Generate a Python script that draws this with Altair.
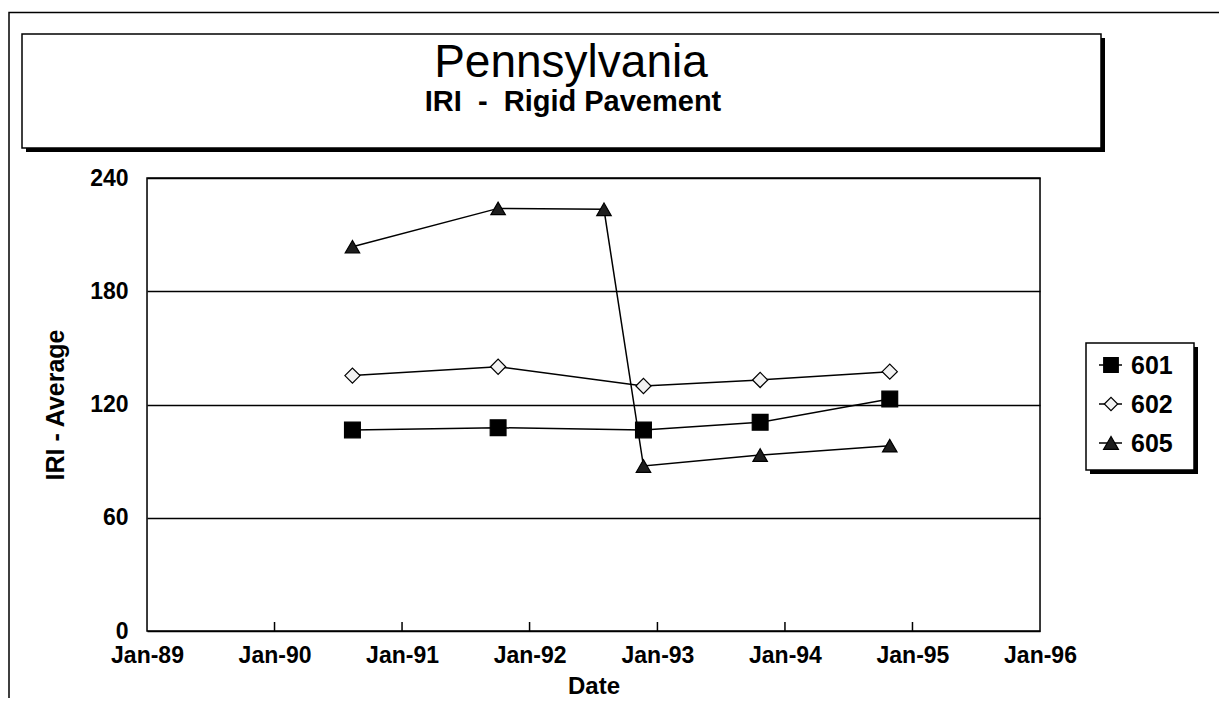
import altair as alt
import pandas as pd

# ---------------- data ----------------
sections = ["601", "602", "605"]

dates_601 = ["1990-08-12", "1991-10-03", "1992-11-22", "1993-10-22", "1994-10-28"]
iri_601 = [106.5, 107.7, 106.5, 110.6, 122.9]

dates_602 = ["1990-08-12", "1991-10-03", "1992-11-22", "1993-10-22", "1994-10-28"]
iri_602 = [135.3, 140.0, 129.8, 133.0, 137.4]

dates_605 = ["1990-08-12", "1991-10-03", "1992-08-01", "1992-11-22", "1993-10-22", "1994-10-28"]
iri_605 = [203.6, 223.9, 223.4, 87.4, 93.2, 98.2]

y_ticks = [0, 60, 120, 180, 240]
tick_years = [1989, 1990, 1991, 1992, 1993, 1994, 1995, 1996]
inner_tick_dates = ["1990-01-01", "1991-01-01", "1992-01-01", "1993-01-01", "1994-01-01", "1995-01-01"]

title_text = "Pennsylvania"
subtitle_text = "IRI\u00a0 -\u00a0 Rigid Pavement"
y_title = "IRI - Average"
x_title = "Date"

# marker styles per section
marker_shapes = ["square", "diamond", "triangle-up"]
marker_fills = ["#000000", "#f2f2f2", "#1e1e1e"]
marker_sizes = [250, 210, 260]

# ---------------- table ----------------
rows = []
for sec, ds, vs in [("601", dates_601, iri_601), ("602", dates_602, iri_602), ("605", dates_605, iri_605)]:
    for d, v in zip(ds, vs):
        rows.append({"section": sec, "date": d, "iri": v})
df = pd.DataFrame(rows)
ticks_df = pd.DataFrame({"date": inner_tick_dates})
one = pd.DataFrame({"k": [0]})

FONT = "Liberation Sans"
W, H = 893, 453

x_scale = alt.Scale(
    type="utc",
    domain=[alt.DateTime(year=1989, month=1, date=1, utc=True),
            alt.DateTime(year=1996, month=1, date=1, utc=True)],
)
y_scale = alt.Scale(domain=[0, 240], nice=False, zero=True)

x_enc = alt.X(
    "date:T",
    scale=x_scale,
    axis=alt.Axis(
        values=[alt.DateTime(year=y, month=1, date=1, utc=True) for y in tick_years],
        labelExpr="utcFormat(datum.value, '%b-%y')",
        labelFont=FONT, labelFontSize=23, labelFontWeight="bold", labelColor="black",
        labelPadding=13, labelFlush=False, labelOverlap=False,
        tickSize=0, domain=False, grid=False,
        title=x_title, titleFont=FONT, titleFontSize=24, titleFontWeight="bold",
        titleColor="black", titlePadding=7,
    ),
)
y_enc = alt.Y(
    "iri:Q",
    scale=y_scale,
    axis=alt.Axis(
        values=y_ticks,
        labelFont=FONT, labelFontSize=23, labelFontWeight="bold", labelColor="black",
        labelPadding=19, labelFlush=False,
        tickSize=0, domain=False,
        grid=True, gridColor="black", gridWidth=1.5, gridOpacity=1,
        title=y_title, titleFont=FONT, titleFontSize=25, titleFontWeight="bold",
        titleColor="black", titleAngle=270, titleX=-92, titleY=H / 2,
        titleAlign="center", titleBaseline="middle",
    ),
)

# ---------------- decorations ----------------
frame = alt.Chart(one).mark_rect(fill=None, stroke="black", strokeWidth=1.5).encode(
    x=alt.value(-138), x2=alt.value(1200), y=alt.value(-165.5), y2=alt.value(700)
)
title_shadow = alt.Chart(one).mark_rect(fill="black").encode(
    x=alt.value(-121), x2=alt.value(958), y=alt.value(-140), y2=alt.value(-26)
)
title_box = alt.Chart(one).mark_rect(fill="white", stroke="black", strokeWidth=1.5).encode(
    x=alt.value(-125), x2=alt.value(954), y=alt.value(-144), y2=alt.value(-30)
)
title = alt.Chart(one).mark_text(
    text=title_text, font=FONT, fontSize=46, color="black", align="center", baseline="alphabetic"
).encode(x=alt.value(424), y=alt.value(-101))
subtitle = alt.Chart(one).mark_text(
    text=subtitle_text, font=FONT, fontSize=29, fontWeight="bold", color="black",
    align="center", baseline="alphabetic"
).encode(x=alt.value(426), y=alt.value(-67))
plot_border = alt.Chart(one).mark_rect(fill=None, stroke="black", strokeWidth=1.5).encode(
    x=alt.value(0), x2=alt.value(W), y=alt.value(0), y2=alt.value(H)
)

# legend (drawn by hand, Excel style: box with shadow, line through marker)
LX0, LX1, LY0, LY1 = 939, 1047, 165, 292
legend_rows_y = [187, 226, 265]
legend_layers = [
    alt.Chart(one).mark_rect(fill="black").encode(
        x=alt.value(LX0 + 4), x2=alt.value(LX1 + 4), y=alt.value(LY0 + 4), y2=alt.value(LY1 + 4)
    ),
    alt.Chart(one).mark_rect(fill="white", stroke="black", strokeWidth=1.5).encode(
        x=alt.value(LX0), x2=alt.value(LX1), y=alt.value(LY0), y2=alt.value(LY1)
    ),
]
for sec, shp, fil, sz, ly in zip(sections, marker_shapes, marker_fills, marker_sizes, legend_rows_y):
    legend_layers.append(
        alt.Chart(one).mark_rule(color="black", strokeWidth=1.5).encode(
            x=alt.value(952), x2=alt.value(975), y=alt.value(ly)
        )
    )
    legend_layers.append(
        alt.Chart(one).mark_point(shape=shp, filled=True, fill=fil, stroke="black",
                                  strokeWidth=1.2, opacity=1, size=sz * 0.85).encode(
            x=alt.value(964), y=alt.value(ly)
        )
    )
    legend_layers.append(
        alt.Chart(one).mark_text(text=sec, font=FONT, fontSize=25, fontWeight="bold",
                                 color="black", align="left", baseline="middle").encode(
            x=alt.value(984), y=alt.value(ly + 1)
        )
    )

# ---------------- data marks ----------------
lines = alt.Chart(df).mark_line(color="black", strokeWidth=1.5).encode(
    x=x_enc, y=y_enc, detail="section:N"
)
points = alt.Chart(df).mark_point(filled=True, stroke="black", strokeWidth=1.2, opacity=1).encode(
    x=x_enc,
    y=y_enc,
    shape=alt.Shape("section:N", scale=alt.Scale(domain=sections, range=marker_shapes), legend=None),
    fill=alt.Fill("section:N", scale=alt.Scale(domain=sections, range=marker_fills), legend=None),
    size=alt.Size("section:N", scale=alt.Scale(domain=sections, range=marker_sizes), legend=None),
)
inner_ticks = alt.Chart(ticks_df).mark_rule(color="black", strokeWidth=1.5).encode(
    x=alt.X("date:T", scale=x_scale), y=alt.value(H), y2=alt.value(H - 9)
)

chart = alt.layer(
    frame, title_shadow, title_box, title, subtitle, plot_border,
    inner_ticks, lines, points, *legend_layers,
).properties(
    width=W, height=H,
    padding={"left": 139, "top": 170, "right": 179, "bottom": 67},
    autosize=alt.AutoSizeParams(type="none"),
    background="white",
).configure_view(
    stroke=None
).configure(font=FONT)

chart.save("out.html", embed_options={"renderer": "svg", "actions": False})
